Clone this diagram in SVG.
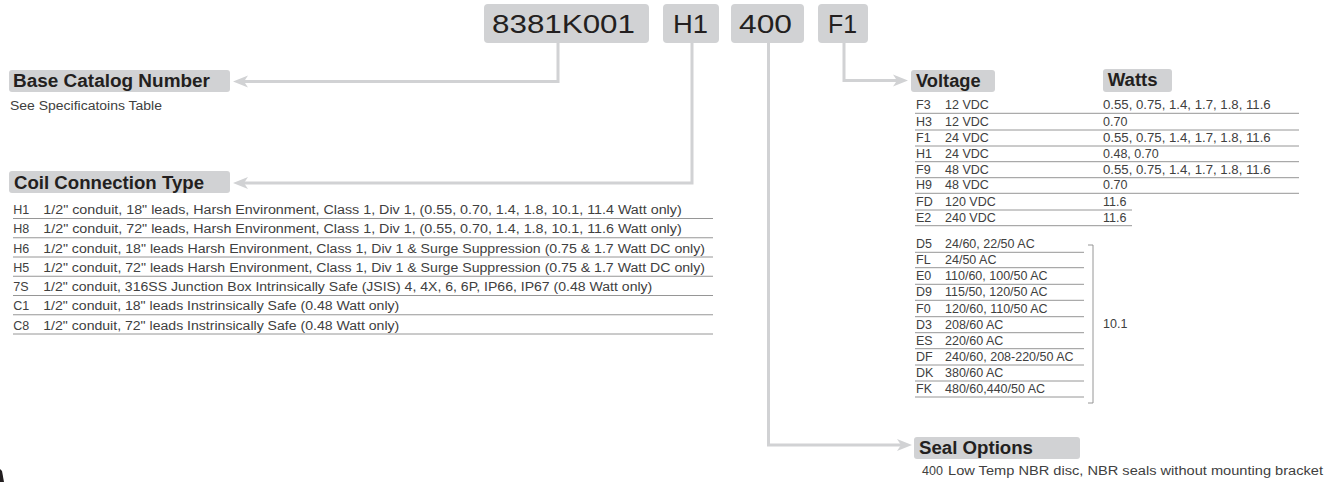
<svg xmlns="http://www.w3.org/2000/svg" width="1335" height="482" viewBox="0 0 1335 482">
<style>
  .bg { fill: #ffffff; }
  .pbox { fill: #d1d2d4; }
  .ptext { font-family: "Liberation Sans", Arial, sans-serif; font-size: 26px; fill: #231f20; }
  .hbox { fill: #d1d2d4; }
  .htext { font-family: "Liberation Sans", Arial, sans-serif; font-size: 18px; font-weight: bold; fill: #231f20; }
  .t { font-family: "Liberation Sans", Arial, sans-serif; font-size: 12.5px; fill: #404040; }
  .sep { stroke: #8a8a8a; stroke-width: 0.9; fill: none; }
  .conn { stroke: #d1d2d4; stroke-width: 3; fill: none; }
</style>
<defs>
  <marker id="arr" markerUnits="userSpaceOnUse" markerWidth="16" markerHeight="14" refX="4" refY="6" orient="auto" overflow="visible">
    <path d="M0,0 L15,6 L0,12 L4,6 Z" fill="#d1d2d4"/>
  </marker>
</defs>
<rect class="bg" x="0" y="0" width="1335" height="482"/>

<g id="connectors">
  <polyline class="conn" points="558,43 558,81.5 244,81.5" marker-end="url(#arr)"/>
  <polyline class="conn" points="692,43 692,183 244,183" marker-end="url(#arr)"/>
  <polyline class="conn" points="844,43 844,80.5 897,80.5" marker-end="url(#arr)"/>
  <polyline class="conn" points="768.5,43 768.5,445 901,445" marker-end="url(#arr)"/>
</g>

<g id="part-base">
  <rect class="pbox" x="484" y="4" width="165" height="39" rx="4"/>
  <text class="ptext" x="492" y="33" textLength="143" lengthAdjust="spacingAndGlyphs">8381K001</text>
</g>
<g id="part-coil">
  <rect class="pbox" x="663" y="4" width="56" height="39" rx="4"/>
  <text class="ptext" x="673" y="33" textLength="35" lengthAdjust="spacingAndGlyphs">H1</text>
</g>
<g id="part-seal">
  <rect class="pbox" x="731" y="4" width="73" height="39" rx="4"/>
  <text class="ptext" x="739" y="33" textLength="53" lengthAdjust="spacingAndGlyphs">400</text>
</g>
<g id="part-voltage">
  <rect class="pbox" x="818" y="4" width="50" height="39" rx="4"/>
  <text class="ptext" x="828" y="33" textLength="29" lengthAdjust="spacingAndGlyphs">F1</text>
</g>

<g id="base-catalog">
  <rect class="hbox" x="9" y="70" width="221" height="22" rx="3"/>
  <text class="htext" x="13" y="87.3" textLength="197" lengthAdjust="spacingAndGlyphs">Base Catalog Number</text>
  <text class="t" x="10" y="110" font-size="13" textLength="152" lengthAdjust="spacingAndGlyphs">See Specificatoins Table</text>
</g>

<g id="coil-connection">
  <rect class="hbox" x="9" y="171" width="221" height="22" rx="3"/>
  <text class="htext" x="14" y="189.3" textLength="190" lengthAdjust="spacingAndGlyphs">Coil Connection Type</text>
  <text class="t" x="13.3" y="214">H1</text>
  <text class="t" x="43.3" y="214" textLength="638.4" lengthAdjust="spacingAndGlyphs">1/2" conduit, 18" leads, Harsh Environment, Class 1, Div 1, (0.55, 0.70, 1.4, 1.8, 10.1, 11.4 Watt only)</text>
  <line class="sep" x1="13" y1="218.5" x2="713" y2="218.5"/>
  <text class="t" x="13.3" y="233.25">H8</text>
  <text class="t" x="43.3" y="233.25" textLength="638.4" lengthAdjust="spacingAndGlyphs">1/2" conduit, 72" leads, Harsh Environment, Class 1, Div 1, (0.55, 0.70, 1.4, 1.8, 10.1, 11.6 Watt only)</text>
  <line class="sep" x1="13" y1="237.75" x2="713" y2="237.75"/>
  <text class="t" x="13.3" y="252.5">H6</text>
  <text class="t" x="43.3" y="252.5" textLength="661.7" lengthAdjust="spacingAndGlyphs">1/2" conduit, 18" leads Harsh Environment, Class 1, Div 1 &amp; Surge Suppression (0.75 &amp; 1.7 Watt DC only)</text>
  <line class="sep" x1="13" y1="257" x2="713" y2="257"/>
  <text class="t" x="13.3" y="271.75">H5</text>
  <text class="t" x="43.3" y="271.75" textLength="661.7" lengthAdjust="spacingAndGlyphs">1/2" conduit, 72" leads Harsh Environment, Class 1, Div 1 &amp; Surge Suppression (0.75 &amp; 1.7 Watt DC only)</text>
  <line class="sep" x1="13" y1="276.25" x2="713" y2="276.25"/>
  <text class="t" x="13.3" y="291">7S</text>
  <text class="t" x="43.3" y="291" textLength="609" lengthAdjust="spacingAndGlyphs">1/2" conduit, 316SS Junction Box Intrinsically Safe (JSIS) 4, 4X, 6, 6P, IP66, IP67 (0.48 Watt only)</text>
  <line class="sep" x1="13" y1="295.5" x2="713" y2="295.5"/>
  <text class="t" x="13.3" y="310.25">C1</text>
  <text class="t" x="43.3" y="310.25" textLength="356" lengthAdjust="spacingAndGlyphs">1/2" conduit, 18" leads Instrinsically Safe (0.48 Watt only)</text>
  <line class="sep" x1="13" y1="314.75" x2="713" y2="314.75"/>
  <text class="t" x="13.3" y="329.5">C8</text>
  <text class="t" x="43.3" y="329.5" textLength="356" lengthAdjust="spacingAndGlyphs">1/2" conduit, 72" leads Instrinsically Safe (0.48 Watt only)</text>
  <line class="sep" x1="13" y1="334" x2="713" y2="334"/>
</g>

<g id="voltage">
  <rect class="hbox" x="911" y="70" width="84" height="22" rx="3"/>
  <text class="htext" x="916" y="86.7" textLength="64.7" lengthAdjust="spacingAndGlyphs">Voltage</text>
  <rect class="hbox" x="1103" y="69" width="69" height="23" rx="3"/>
  <text class="htext" x="1107.7" y="86.2" textLength="50" lengthAdjust="spacingAndGlyphs">Watts</text>

  <text class="t" x="916" y="109.3">F3</text><text class="t" x="945" y="109.3">12 VDC</text><text class="t" x="1103" y="109.3" textLength="167.7" lengthAdjust="spacingAndGlyphs">0.55, 0.75, 1.4, 1.7, 1.8, 11.6</text>
  <line class="sep" x1="915" y1="113.3" x2="1299" y2="113.3"/>
  <text class="t" x="916" y="126">H3</text><text class="t" x="945" y="126">12 VDC</text><text class="t" x="1103" y="126">0.70</text>
  <line class="sep" x1="915" y1="130" x2="1299" y2="130"/>
  <text class="t" x="916" y="142">F1</text><text class="t" x="945" y="142">24 VDC</text><text class="t" x="1103" y="142" textLength="167.7" lengthAdjust="spacingAndGlyphs">0.55, 0.75, 1.4, 1.7, 1.8, 11.6</text>
  <line class="sep" x1="915" y1="146" x2="1299" y2="146"/>
  <text class="t" x="916" y="157.7">H1</text><text class="t" x="945" y="157.7">24 VDC</text><text class="t" x="1103" y="157.7">0.48, 0.70</text>
  <line class="sep" x1="915" y1="161.7" x2="1299" y2="161.7"/>
  <text class="t" x="916" y="173.7">F9</text><text class="t" x="945" y="173.7">48 VDC</text><text class="t" x="1103" y="173.7" textLength="167.7" lengthAdjust="spacingAndGlyphs">0.55, 0.75, 1.4, 1.7, 1.8, 11.6</text>
  <line class="sep" x1="915" y1="177.7" x2="1299" y2="177.7"/>
  <text class="t" x="916" y="189.3">H9</text><text class="t" x="945" y="189.3">48 VDC</text><text class="t" x="1103" y="189.3">0.70</text>
  <line class="sep" x1="915" y1="193.3" x2="1299" y2="193.3"/>
  <text class="t" x="916" y="206">FD</text><text class="t" x="945" y="206">120 VDC</text><text class="t" x="1103" y="206">11.6</text>
  <line class="sep" x1="915" y1="210" x2="1132" y2="210"/>
  <text class="t" x="916" y="221.7">E2</text><text class="t" x="945" y="221.7">240 VDC</text><text class="t" x="1103" y="221.7">11.6</text>
  <line class="sep" x1="915" y1="225.7" x2="1132" y2="225.7"/>

  <text class="t" x="916" y="248.3">D5</text><text class="t" x="945" y="248.3">24/60, 22/50 AC</text>
  <line class="sep" x1="915" y1="252.3" x2="1084" y2="252.3"/>
  <text class="t" x="916" y="263.7">FL</text><text class="t" x="945" y="263.7">24/50 AC</text>
  <line class="sep" x1="915" y1="267.7" x2="1084" y2="267.7"/>
  <text class="t" x="916" y="280.3">E0</text><text class="t" x="945" y="280.3">110/60, 100/50 AC</text>
  <line class="sep" x1="915" y1="284.3" x2="1084" y2="284.3"/>
  <text class="t" x="916" y="296.3">D9</text><text class="t" x="945" y="296.3">115/50, 120/50 AC</text>
  <line class="sep" x1="915" y1="300.3" x2="1084" y2="300.3"/>
  <text class="t" x="916" y="312.7">F0</text><text class="t" x="945" y="312.7">120/60, 110/50 AC</text>
  <line class="sep" x1="915" y1="316.7" x2="1084" y2="316.7"/>
  <text class="t" x="916" y="328.7">D3</text><text class="t" x="945" y="328.7">208/60 AC</text>
  <line class="sep" x1="915" y1="332.7" x2="1084" y2="332.7"/>
  <text class="t" x="916" y="344.7">ES</text><text class="t" x="945" y="344.7">220/60 AC</text>
  <line class="sep" x1="915" y1="348.7" x2="1084" y2="348.7"/>
  <text class="t" x="916" y="361">DF</text><text class="t" x="945" y="361">240/60, 208-220/50 AC</text>
  <line class="sep" x1="915" y1="365" x2="1084" y2="365"/>
  <text class="t" x="916" y="377">DK</text><text class="t" x="945" y="377">380/60 AC</text>
  <line class="sep" x1="915" y1="381" x2="1084" y2="381"/>
  <text class="t" x="916" y="393">FK</text><text class="t" x="945" y="393">480/60,440/50 AC</text>
  <line class="sep" x1="915" y1="397" x2="1084" y2="397"/>

  <polyline class="sep" points="1088,245 1093,245 1093,403 1088,403"/>
  <text class="t" x="1103" y="328">10.1</text>
</g>

<g id="seal-options">
  <rect class="hbox" x="914" y="437" width="166" height="22" rx="3"/>
  <text class="htext" x="919" y="454.3" textLength="114" lengthAdjust="spacingAndGlyphs">Seal Options</text>
  <text class="t" x="922" y="475">400</text>
  <text class="t" x="948" y="475" textLength="375" lengthAdjust="spacingAndGlyphs">Low Temp NBR disc, NBR seals without mounting bracket</text>
</g>

<path d="M0,469 L2,471 L4,482 L0,482 Z" fill="#231f20"/>
</svg>
